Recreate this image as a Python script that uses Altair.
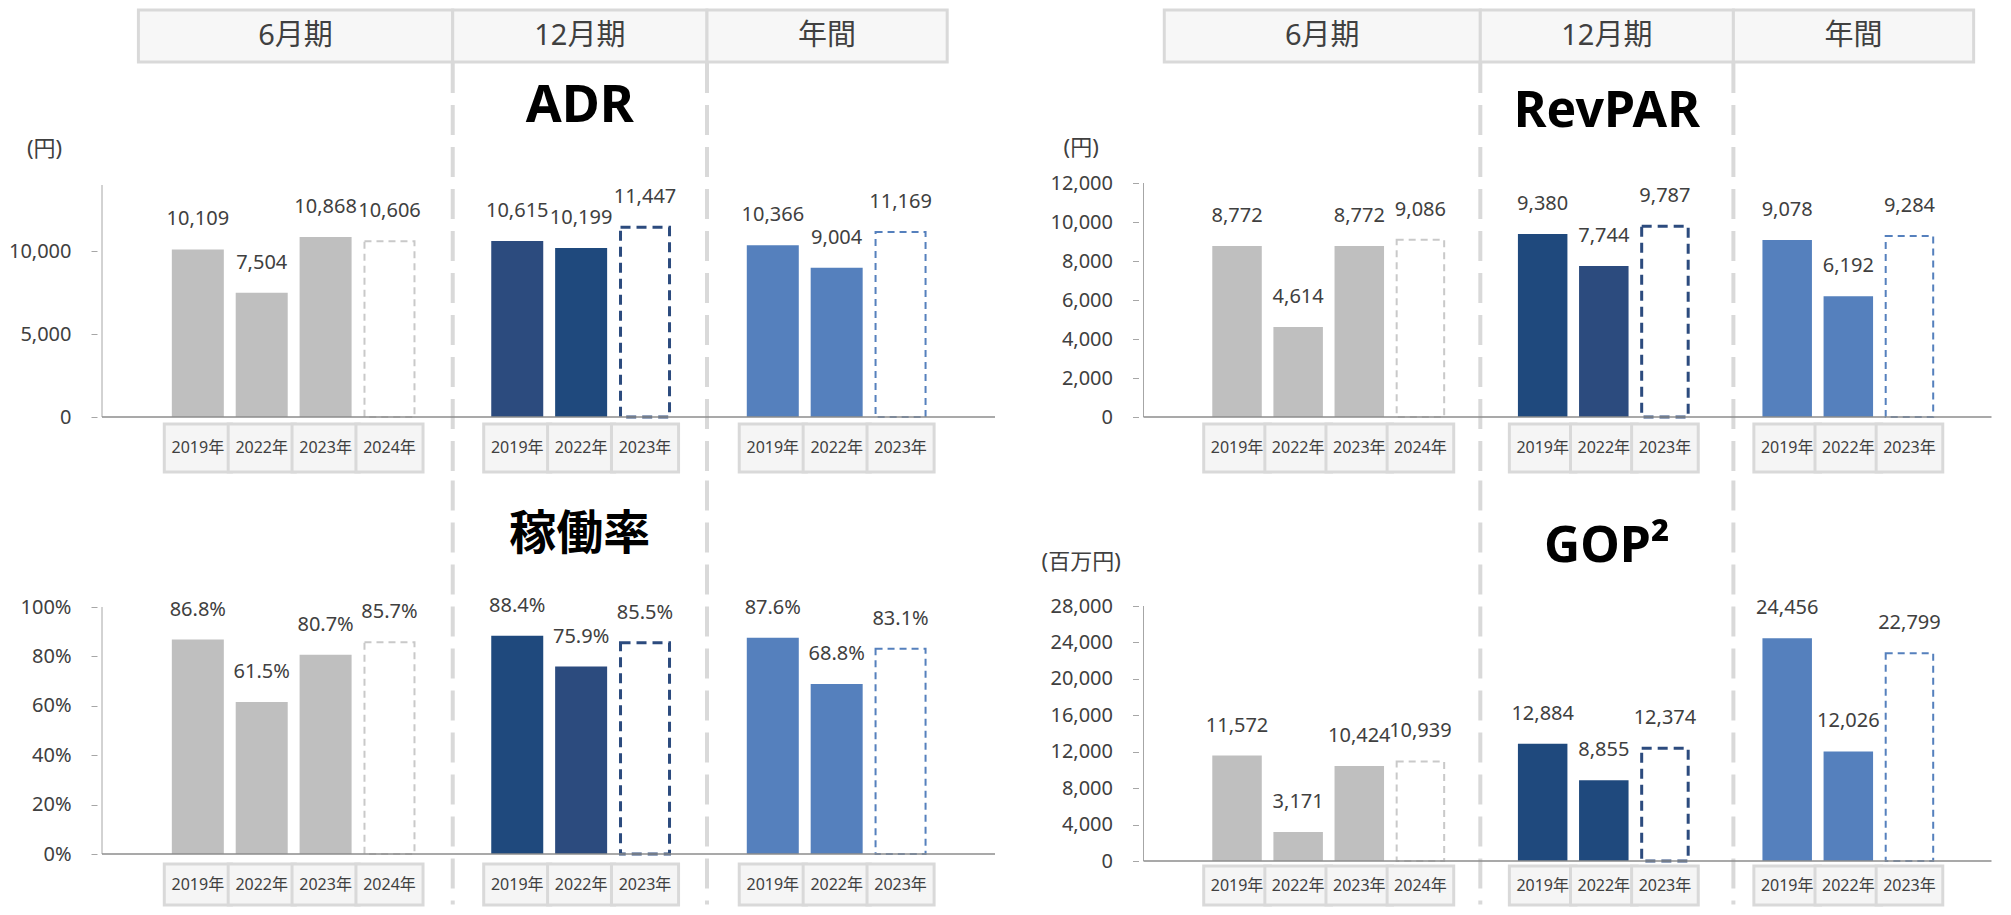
import altair as alt
import pandas as pd

# ---------------- data ----------------
periods = ["6月期", "12月期", "年間"]
years_jun = ["2019年", "2022年", "2023年", "2024年"]
years_dec = ["2019年", "2022年", "2023年"]
years_ann = ["2019年", "2022年", "2023年"]

adr_jun = [10109, 7504, 10868, 10606]
adr_dec = [10615, 10199, 11447]
adr_ann = [10366, 9004, 11169]

revpar_jun = [8772, 4614, 8772, 9086]
revpar_dec = [9380, 7744, 9787]
revpar_ann = [9078, 6192, 9284]

occ_jun = [0.868, 0.615, 0.807, 0.857]
occ_dec = [0.884, 0.759, 0.855]
occ_ann = [0.876, 0.688, 0.831]

gop_jun = [11572, 3171, 10424, 10939]
gop_dec = [12884, 8855, 12374]
gop_ann = [24456, 12026, 22799]

adr_ticks = [0, 5000, 10000]
revpar_ticks = [0, 2000, 4000, 6000, 8000, 10000, 12000]
occ_ticks = [0, 0.2, 0.4, 0.6, 0.8, 1.0]
gop_ticks = [0, 4000, 8000, 12000, 16000, 20000, 24000, 28000]

# ---------------- style / layout ----------------
FONT = "Noto Sans, Noto Sans CJK JP"
TXT = "#404040"
GRAY = "#bfbfbf"
GRAY_DASH = "#c9c9c9"
NAVY = "#1f497d"
NAVY2 = "#2c4b7e"
BLUE = "#5580bd"
SEP = "#d9d9d9"
BOX_FILL = "#f5f5f5"
HEAD_FILL = "#f7f7f7"
BOX_STROKE = "#d9d9d9"

GROUP_START = [0, 5, 9]

HALVES = {
    "left": dict(slot=64.6, kmin=-1.5, width=903,
                 header=[(-0.93, 3.99), (3.99, 7.97), (7.97, 11.73)],
                 seps=[3.99, 7.97], unit_k=-2.40, cell=1.05, bar=52),
    "right": dict(slot=61.85, kmin=-1.53, width=858,
                  header=[(-1.19, 3.98), (3.98, 8.12), (8.12, 12.05)],
                  seps=[3.98, 8.12], unit_k=-2.55, cell=1.09, bar=49.5),
}
ROWS = {"top": dict(p0=8, h=470), "bottom": dict(p0=478, h=429)}

DASH_STYLE = [
    dict(stroke=GRAY_DASH, strokeWidth=2, strokeDash=[7, 5]),
    dict(stroke=NAVY2, strokeWidth=3, strokeDash=[10, 6]),
    dict(stroke=BLUE, strokeWidth=2, strokeDash=[7, 5]),
]


def panel(half, row, jun, dec, ann, ticks, vt, vfmt, tfmt, title, title_size,
          title_py, unit, unit_py, yb, yt, dec_colors, box_py, header=False):
    H = HALVES[half]
    R = ROWS[row]
    kmin = H["kmin"]
    kmax = kmin + H["width"] / H["slot"]
    u = vt / (yb - yt)

    def Y(py):
        return (yb - py) * u

    ydom = [Y(R["p0"] + R["h"]), Y(R["p0"])]
    xs = alt.Scale(domain=[kmin, kmax], nice=False, zero=False)
    ys = alt.Scale(domain=ydom, nice=False, zero=False)
    yaxis = alt.Axis(values=ticks, format=tfmt, domain=False, grid=False,
                     tickSize=6, tickColor="#a6a6a6", tickWidth=1,
                     labelFont=FONT, labelFontSize=20, labelColor=TXT,
                     labelPadding=20, title=None)

    def X(f):
        return alt.X(f, type="quantitative", scale=xs, axis=None)

    def Yq(f):
        return alt.Y(f, type="quantitative", scale=ys, axis=yaxis)

    recs = []
    for gi, (vals, yrs) in enumerate([(jun, years_jun), (dec, years_dec), (ann, years_ann)]):
        for i, (v, yr) in enumerate(zip(vals, yrs)):
            if gi == 0:
                col = GRAY
            elif gi == 1:
                col = dec_colors[min(i, len(dec_colors) - 1)]
            else:
                col = BLUE
            recs.append(dict(group=gi, k=GROUP_START[gi] + i, value=v, year=yr,
                             last=(i == len(vals) - 1), color=col, zero=0,
                             x1=GROUP_START[gi] + i - H["cell"] / 2,
                             x2=GROUP_START[gi] + i + H["cell"] / 2,
                             by1=Y(box_py[0]), by2=Y(box_py[1]),
                             byc=Y((box_py[0] + box_py[1]) / 2)))
    df = pd.DataFrame(recs)
    solid_df = df[~df["last"]]

    layers = []

    # separators (inset slightly so their stroke stays inside the panel)
    sep_top = 63 if header else R["p0"] + 2.5
    sep_df = pd.DataFrame({"k": H["seps"], "y1": Y(sep_top), "y2": Y(R["p0"] + R["h"] - 2.5)})
    layers.append(alt.Chart(sep_df).mark_rule(color=SEP, strokeWidth=4, strokeDash=[30, 12])
                  .encode(x=X("k"), y=Yq("y1"), y2="y2"))

    # header
    if header:
        hd = pd.DataFrame({
            "label": periods,
            "x1": [a for a, b in H["header"]],
            "x2": [b for a, b in H["header"]],
            "xc": [(a + b) / 2 for a, b in H["header"]],
            "y1": Y(10), "y2": Y(62), "yc": Y(36),
        })
        layers.append(alt.Chart(hd).mark_rect(fill=HEAD_FILL, stroke=BOX_STROKE, strokeWidth=3)
                      .encode(x=X("x1"), x2="x2", y=Yq("y1"), y2="y2"))
        layers.append(alt.Chart(hd).mark_text(font=FONT, fontSize=29, color=TXT)
                      .encode(x=X("xc"), y=Yq("yc"), text="label:N"))

    # solid bars
    layers.append(alt.Chart(solid_df).mark_bar(size=H["bar"])
                  .encode(x=X("k"), y=Yq("value"), y2="zero",
                          color=alt.Color("color:N", scale=None)))
    # dashed (last) bars
    for gi in range(3):
        st = DASH_STYLE[gi]
        d = df[(df["last"]) & (df["group"] == gi)]
        layers.append(alt.Chart(d).mark_bar(size=H["bar"] - st["strokeWidth"], fill="#ffffff", **st)
                      .encode(x=X("k"), y=Yq("value"), y2="zero"))

    # value labels
    layers.append(alt.Chart(df).mark_text(font=FONT, fontSize=20, color=TXT, dy=-30, baseline="middle")
                  .encode(x=X("k"), y=Yq("value"), text=alt.Text("value:Q", format=vfmt)))

    # year boxes
    layers.append(alt.Chart(df).mark_rect(fill=BOX_FILL, stroke=BOX_STROKE, strokeWidth=3)
                  .encode(x=X("x1"), x2="x2", y=Yq("by1"), y2="by2"))
    layers.append(alt.Chart(df).mark_text(font=FONT, fontSize=16, color=TXT)
                  .encode(x=X("k"), y=Yq("byc"), text="year:N"))

    # axis line and baseline
    ax_df = pd.DataFrame({"x": [kmin], "y1": [0], "y2": [vt]})
    layers.append(alt.Chart(ax_df).mark_rule(color="#a6a6a6", strokeWidth=1)
                  .encode(x=X("x"), y=Yq("y1"), y2="y2"))
    bl_df = pd.DataFrame({"x1": [kmin], "x2": [kmax], "y": [0]})
    layers.append(alt.Chart(bl_df).mark_rule(color="#8c8c8c", strokeWidth=1.5)
                  .encode(x=X("x1"), x2="x2", y=Yq("y")))

    # title
    a, b = H["header"][1]
    tt = pd.DataFrame({"x": [(a + b) / 2], "y": [Y(title_py)], "t": [title]})
    layers.append(alt.Chart(tt).mark_text(font=FONT, fontSize=title_size, fontWeight="bold", color="#000000")
                  .encode(x=X("x"), y=Yq("y"), text="t:N"))

    # unit
    if unit:
        ut = pd.DataFrame({"x": [H["unit_k"]], "y": [Y(unit_py)], "t": [unit]})
        layers.append(alt.Chart(ut).mark_text(font=FONT, fontSize=22, color=TXT)
                      .encode(x=X("x"), y=Yq("y"), text="t:N"))

    return alt.layer(*layers).properties(width=H["width"], height=R["h"])


adr = panel("left", "top", adr_jun, adr_dec, adr_ann, adr_ticks, 14000, ",.0f", ",.0f",
            "ADR", 52, 106, "(円)", 149, 417, 185, [NAVY2, NAVY], (424, 472), header=True)
revpar = panel("right", "top", revpar_jun, revpar_dec, revpar_ann, revpar_ticks, 12000, ",.0f", ",.0f",
               "RevPAR", 50, 112, "(円)", 148, 417, 183, [NAVY, NAVY2], (424, 472), header=True)
occ = panel("left", "bottom", occ_jun, occ_dec, occ_ann, occ_ticks, 1.0, ".1%", ".0%",
            "稼働率", 47, 535, None, None, 854, 607, [NAVY, NAVY2], (864, 905))
gop = panel("right", "bottom", gop_jun, gop_dec, gop_ann, gop_ticks, 28000, ",.0f", ",.0f",
            "GOP²", 50, 547, "(百万円)", 562, 861, 606, [NAVY, NAVY], (866, 905))

left = alt.vconcat(adr, occ, spacing=0)
right = alt.vconcat(revpar, gop, spacing=0)
chart = alt.hconcat(left, right, spacing=41.5,
                    padding={"left": 0, "top": 0, "right": 0, "bottom": 0}).configure_view(strokeWidth=0)

chart.save("out.html", embed_options={"renderer": "svg", "actions": False})
